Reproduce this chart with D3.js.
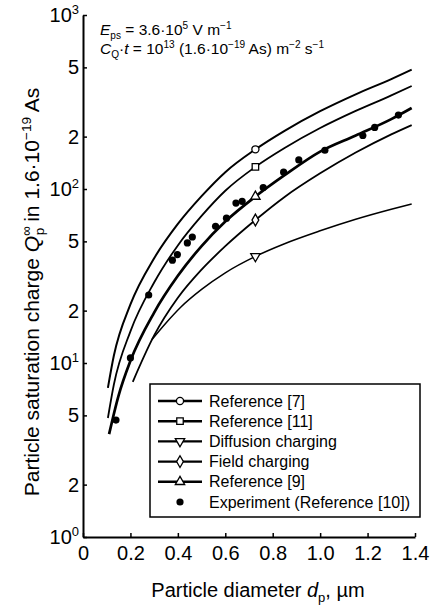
<!DOCTYPE html>
<html><head><meta charset="utf-8">
<script src="https://cdn.jsdelivr.net/npm/d3@7"></script>
<style>
body{margin:0;background:#fff}
svg{display:block}
text{font-family:"Liberation Sans",Arial,Helvetica,sans-serif;fill:#000}
</style>
</head><body>
<svg id="chart" width="433" height="609"></svg>
<script>
// ---------- data ----------
const ref7Diam  = [0.105, 0.13, 0.2, 0.3, 0.4, 0.5, 0.6, 0.727, 0.85, 1.0, 1.15, 1.3, 1.386];
const ref7Q     = [7.2, 11, 21.7, 40, 63, 91, 125, 169, 216, 280, 350, 428, 485];
const ref11Diam = [0.105, 0.13, 0.2, 0.3, 0.4, 0.5, 0.6, 0.727, 0.85, 1.0, 1.15, 1.3, 1.386];
const ref11Q    = [4.83, 7.5, 15.2, 29, 47.4, 70, 97.7, 134, 172, 224, 281, 345, 391];
const ref9Diam  = [0.11, 0.15, 0.2, 0.3, 0.4, 0.5, 0.6, 0.727, 0.85, 1.0, 1.15, 1.3, 1.386];
const ref9Q     = [3.9, 6.5, 10.3, 19.5, 31.7, 47, 65, 90.5, 120, 164, 203, 252, 292];
const fieldDiam = [0.21, 0.3, 0.4, 0.5, 0.6, 0.727, 0.85, 1.0, 1.15, 1.3, 1.386];
const fieldQ    = [7.8, 14.4, 23.7, 34.4, 46.9, 66.3, 90, 123, 162, 206, 233];
const diffDiam  = [0.29, 0.35, 0.413, 0.5, 0.6, 0.727, 0.85, 1.0, 1.15, 1.3, 1.386];
const diffQ     = [13.6, 17, 21, 26.5, 33, 41, 48.5, 57.5, 67, 76.5, 82];
const markerDiam = 0.727;

const expDiam = [0.139, 0.20, 0.277, 0.377, 0.398, 0.44, 0.461, 0.559, 0.605, 0.645, 0.671, 0.76, 0.846, 0.91, 1.02, 1.18, 1.23, 1.33];
const expQ    = [4.7, 10.7, 24.6, 39, 42, 49, 53, 61, 68, 83, 85, 102, 125, 147, 167, 203, 226, 266];

const xTicks = [0, 0.2, 0.4, 0.6, 0.8, 1.0, 1.2, 1.4];
const xTickLabels = ["0", "0.2", "0.4", "0.6", "0.8", "1.0", "1.2", "1.4"];
const yTicks = [1, 2, 5, 10, 20, 50, 100, 200, 500, 1000];
const yTickLabels = ["10^0", "2", "5", "10^1", "2", "5", "10^2", "2", "5", "10^3"];

const seriesNames = ["Reference [7]", "Reference [11]", "Diffusion charging", "Field charging", "Reference [9]", "Experiment (Reference [10])"];

// ---------- chart ----------
const svg = d3.select("#chart");
const x = d3.scaleLinear().domain([0, 1.4]).range([83, 415]);
const y = d3.scaleLog().domain([1, 1000]).range([537, 15]);

function rich(sel, parts, base) {
  let cur = 0;
  parts.forEach(p => {
    const ts = sel.append("tspan").text(p.t);
    let target = 0, size = base;
    if (p.s === "sup") { target = -0.38 * base; size = 0.65 * base; }
    if (p.s === "sub") { target = 0.25 * base; size = 0.65 * base; }
    ts.attr("font-size", size).attr("dy", target - cur);
    if (p.dx) ts.attr("dx", p.dx);
    if (p.i) ts.attr("font-style", "italic");
    cur = target;
  });
  return sel;
}

// axes
const gy = svg.append("g").attr("transform", `translate(${x(0)},0)`)
  .call(d3.axisLeft(y).tickValues(yTicks).tickSizeInner(-4).tickSizeOuter(0).tickPadding(4));
gy.selectAll(".tick text").each(function(d, i) {
  const t = d3.select(this).text("").attr("font-size", 20).attr("font-family", null);
  const lab = yTickLabels[i];
  if (lab.includes("^")) {
    const [b, e] = lab.split("^");
    t.append("tspan").text(b);
    t.append("tspan").text(e).attr("font-size", 13).attr("dy", -8);
  } else t.text(lab);
});
const gx = svg.append("g").attr("transform", `translate(0,${y(1)})`)
  .call(d3.axisBottom(x).tickValues(xTicks).tickFormat((d, i) => xTickLabels[i])
    .tickSizeInner(-4).tickSizeOuter(0).tickPadding(9));
gx.selectAll(".tick text").attr("font-size", 20).attr("font-family", null);
svg.selectAll(".domain").attr("stroke", "#000").attr("stroke-width", 2);
svg.selectAll(".tick line").attr("stroke", "#000").attr("stroke-width", 1.5);

// curves
const line = d3.line().x(d => x(d[0])).y(d => y(d[1])).curve(d3.curveMonotoneX);
const curves = [
  {name: seriesNames[0], d: ref7Diam,  q: ref7Q,  w: 2.0, m: "circle"},
  {name: seriesNames[1], d: ref11Diam, q: ref11Q, w: 1.8, m: "square"},
  {name: seriesNames[2], d: diffDiam,  q: diffQ,  w: 1.5, m: "down"},
  {name: seriesNames[3], d: fieldDiam, q: fieldQ, w: 1.8, m: "diamond"},
  {name: seriesNames[4], d: ref9Diam,  q: ref9Q,  w: 2.7, m: "up"},
];
const symbolTypes = {circle: d3.symbolCircle, square: d3.symbolSquare, diamond: d3.symbolDiamond, up: d3.symbolTriangle};
function marker(g, type, cx, cy) {
  if (type === "down") {
    g.append("path").attr("d", d3.symbol(d3.symbolTriangle, 38)())
      .attr("transform", `translate(${cx},${cy}) rotate(180)`)
      .attr("fill", "#fff").attr("stroke", "#000").attr("stroke-width", 1.3);
  } else {
    const size = type === "circle" ? 40 : type === "square" ? 42 : type === "diamond" ? 40 : 38;
    g.append("path").attr("d", d3.symbol(symbolTypes[type], size)())
      .attr("transform", `translate(${cx},${cy})`)
      .attr("fill", "#fff").attr("stroke", "#000").attr("stroke-width", 1.3);
  }
}
const gc = svg.append("g");
curves.forEach(c => {
  const pts = c.d.map((d, i) => [d, c.q[i]]);
  gc.append("path").attr("d", line(pts)).attr("fill", "none")
    .attr("stroke", "#000").attr("stroke-width", c.w);
});
curves.forEach(c => {
  const k = c.d.indexOf(markerDiam);
  marker(gc, c.m, x(markerDiam), y(c.q[k]));
});
// experiment dots
gc.selectAll("circle.exp").data(expDiam).join("circle").attr("class", "exp")
  .attr("cx", d => x(d)).attr("cy", (d, i) => y(expQ[i])).attr("r", 3.6).attr("fill", "#000");

// annotation
rich(svg.append("text").attr("x", 100).attr("y", 35).attr("font-size", 15.5), [
  {t: "E", i: true}, {t: "ps", s: "sub"}, {t: " = 3.6·10"}, {t: "5", s: "sup"}, {t: " V m"}, {t: "−1", s: "sup"}
], 15.5);
rich(svg.append("text").attr("x", 100).attr("y", 54).attr("font-size", 15.5), [
  {t: "C", i: true}, {t: "Q", s: "sub"}, {t: "·"}, {t: "t", i: true}, {t: " = 10"}, {t: "13", s: "sup"},
  {t: " (1.6·10"}, {t: "−19", s: "sup"}, {t: " As) m"}, {t: "−2", s: "sup"}, {t: " s"}, {t: "−1", s: "sup"}
], 15.5);

// axis titles
rich(svg.append("text").attr("x", 258).attr("y", 597).attr("text-anchor", "middle").attr("font-size", 20), [
  {t: "Particle diameter "}, {t: "d", i: true}, {t: "p", s: "sub"}, {t: ", µm"}
], 20);
rich(svg.append("text").attr("transform", "translate(39,292) rotate(-90)").attr("text-anchor", "middle").attr("font-size", 21), [
  {t: "Particle saturation charge "}, {t: "Q", i: true}, {t: "∞", s: "sup"}, {t: "p", s: "sub", dx: -9}, {t: " in 1.6·10"}, {t: "−19", s: "sup"}, {t: " As"}
], 21);

// legend
const lg = svg.append("g");
lg.append("rect").attr("x", 150).attr("y", 384).attr("width", 270).attr("height", 133)
  .attr("fill", "#fff").attr("stroke", "#000").attr("stroke-width", 1.5);
const legendOrder = [0, 1, 2, 3, 4];
legendOrder.forEach((ci, r) => {
  const cy = 401 + r * 20.2;
  const c = curves[ci];
  lg.append("line").attr("x1", 158).attr("x2", 202).attr("y1", cy).attr("y2", cy)
    .attr("stroke", "#000").attr("stroke-width", 2.4);
  marker(lg, c.m, 180, cy);
  lg.append("text").attr("x", 209).attr("y", cy + 5.6).attr("font-size", 16).text(c.name);
});
{
  const cy = 401 + 5 * 20.2;
  lg.append("circle").attr("cx", 180).attr("cy", cy).attr("r", 3.6).attr("fill", "#000");
  lg.append("text").attr("x", 209).attr("y", cy + 5.6).attr("font-size", 16).text(seriesNames[5]);
}
</script>
</body></html>
